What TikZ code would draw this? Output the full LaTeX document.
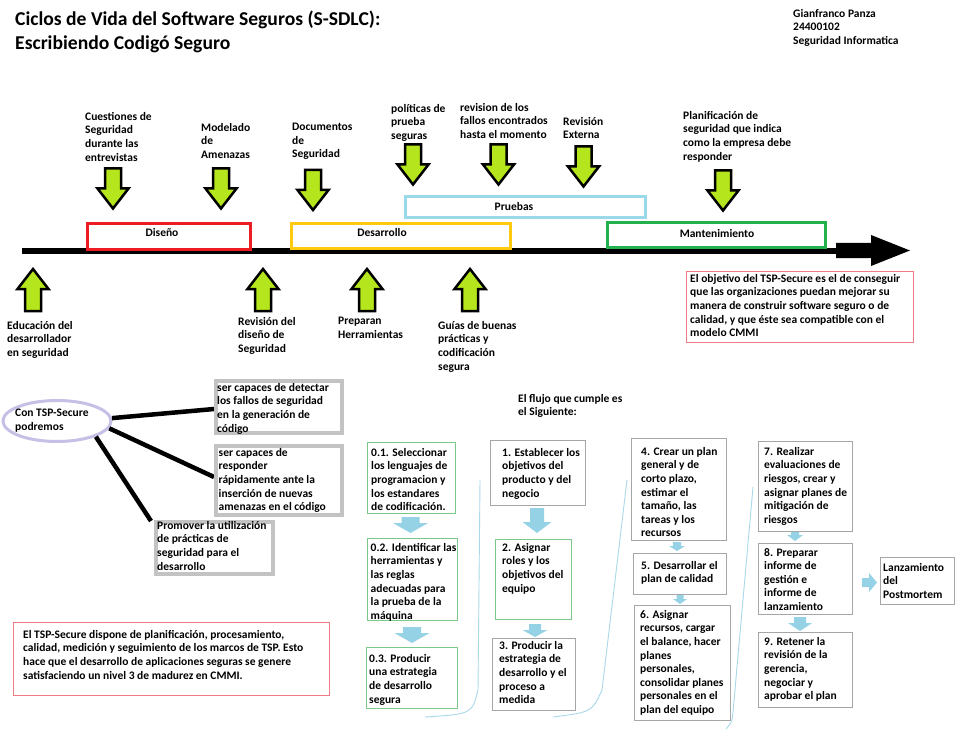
\documentclass[tikz,border=0pt]{standalone}
\usepackage{fontspec}
\setmainfont{Carlito}
\usetikzlibrary{shapes.geometric}

\definecolor{lime}{HTML}{B5E61D}
\definecolor{phred}{HTML}{ED1C24}
\definecolor{phgold}{HTML}{FFC90E}
\definecolor{phsky}{HTML}{99D9EA}
\definecolor{phgreen}{HTML}{22B14C}
\definecolor{phlav}{HTML}{C8BFE7}
\definecolor{capgray}{HTML}{C3C3C3}
\definecolor{notered}{HTML}{F07C84}
\definecolor{stepgray}{HTML}{A6A6A6}
\definecolor{stepgreen}{HTML}{7CC88A}
\definecolor{flowblue}{HTML}{96D2E6}
\definecolor{curveblue}{HTML}{A8D8EA}

\newcommand\lbfont{\bfseries\fontsize{11.5}{13.6}\selectfont}
\newcommand\ttlfont{\bfseries\fontsize{19.6}{23.5}\selectfont}

\begin{document}
\begin{tikzpicture}[x=1pt, y=-1pt,
    lbl/.style={font=\lbfont, align=left, inner sep=0pt, anchor=north west, yshift=-2pt,
      execute at begin node=\strut},
    ptxt/.style={font=\lbfont, inner sep=0pt, execute at begin node=\strut},
    phase/.style={draw=#1, line width=3pt, fill=white, anchor=north west, inner sep=0pt},
    capbox/.style={draw=capgray, line width=4pt, fill=white, anchor=north west, inner sep=0pt},
    notebox/.style={draw=notered, line width=1.3pt, anchor=north west, inner sep=0pt},
    stepbox/.style={draw=#1, line width=1.3pt, fill=white, anchor=north west, inner sep=0pt},
    garrow/.style={draw=black, fill=lime, line width=2.5pt, line join=miter},
    farrow/.style={fill=flowblue},
    spoke/.style={line width=4.5pt},
    flowcurve/.style={draw=curveblue, line width=0.9pt}]

  \fill[white] (0,0) rectangle (960,743);
  \useasboundingbox (0,0) rectangle (960,743);

  % title and author
  \node[lbl, font=\ttlfont] (ttl) at (15,9)
    {Ciclos de Vida del Software Seguros (S-SDLC):\\Escribiendo Codigó Seguro};
  \node[lbl] (info) at (793,7) {Gianfranco Panza\\24400102\\Seguridad Informatica};

  % time line
  \draw[line width=6.5pt] (22,251) -- (840,251);
  \fill (836,243) -- (871,243) -- (871,235) -- (910,250.5) -- (871,266) -- (871,258)
    -- (836,258) -- cycle;

  % phases
  \foreach \n/\c/\x/\y/\w/\h in {fDis/phred/85.5/222.5/163/25, fDes/phgold/289.5/222.5/219/24,
      fPru/phsky/403.5/195.5/240/21, fMan/phgreen/605.5/221.5/218/24}
    \node[phase=\c, minimum width=\w, minimum height=\h] (\n) at (\x,\y) {};
  \node[ptxt] (dis) at (162,234) {Diseño};
  \node[ptxt] (des) at (382,233.5) {Desarrollo};
  \node[ptxt] (pru) at (514,208) {Pruebas};
  \node[ptxt] (man) at (717,235) {Mantenimiento};

  % green arrows
  \foreach \cx/\ty in {113/168.5, 221/168.5, 313/170, 413/144.5, 498.5/144.5, 583.5/146.5, 723/170.5}
    \draw[garrow] (\cx-8,\ty) -- (\cx+8,\ty) -- (\cx+8,\ty+20) -- (\cx+15.5,\ty+20)
      -- (\cx,\ty+40) -- (\cx-15.5,\ty+20) -- (\cx-8,\ty+20) -- cycle;
  \foreach \cx in {33, 263, 367, 470}
    \draw[garrow] (\cx,269) -- (\cx+15.5,289) -- (\cx+8,289) -- (\cx+8,311)
      -- (\cx-8,311) -- (\cx-8,289) -- (\cx-15.5,289) -- cycle;

  \node[lbl] (tCue) at (85,110) {Cuestiones de\\Seguridad\\durante las\\entrevistas};
  \node[lbl] (tMod) at (201,121) {Modelado\\de\\Amenazas};
  \node[lbl] (tDoc) at (292,121) {Documentos\\de\\Seguridad};
  \node[lbl] (tPol) at (391,102) {políticas de\\prueba\\seguras};
  \node[lbl] (tRev) at (460,101) {revision de los\\fallos encontrados\\hasta el momento};
  \node[lbl] (tExt) at (563,115) {Revisión\\Externa};
  \node[lbl] (tPla) at (683,109) {Planificación de\\seguridad que indica\\como la empresa debe\\responder};

  \node[lbl] (tEdu) at (7,319) {Educación del\\desarrollador\\en seguridad};
  \node[lbl] (tRdi) at (238,315) {Revisión del\\diseño de\\Seguridad};
  \node[lbl] (tPre) at (338,315) {Preparan\\Herramientas};
  \node[lbl] (tGui) at (438,319) {Guías de buenas\\prácticas y\\codificación\\segura};

  % notes
  \node[notebox, minimum width=227, minimum height=71] (fObj) at (685.5,270.5) {};
  \node[lbl] (tObj) at (690,272) {El objetivo del TSP-Secure es el de conseguir\\que las
    organizaciones puedan mejorar su\\manera de construir software seguro o de\\calidad, y que
    éste sea compatible con el\\modelo CMMI};
  \node[notebox, minimum width=316, minimum height=73] (fMar) at (12.5,621.5) {};
  \node[lbl] (tMar) at (23,628) {El TSP-Secure dispone de planificación, procesamiento,\\calidad,
    medición y seguimiento de los marcos de TSP. Esto\\hace que el desarrollo de aplicaciones
    seguras se genere\\satisfaciendo un nivel 3 de madurez en CMMI.};

  % TSP-Secure
  \node[ellipse, draw=phlav, line width=3pt, minimum width=108, minimum height=41] (tsp) at (57,421) {};
  \node[lbl] (tspt) at (15,407) {Con TSP-Secure\\podremos};
  \draw[spoke] (tsp.3) -- (214,409);
  \draw[spoke] (tsp.-8) -- (214,477);
  \draw[spoke] (tsp.-22) -- (151,521);
  \node[capbox, minimum width=126, minimum height=52] (capA) at (214,379) {};
  \node[capbox, minimum width=126, minimum height=69] (capB) at (214,444) {};
  \node[capbox, minimum width=117, minimum height=52] (promo) at (154,520) {};
  \node[lbl] (capAt) at (217,381) {ser capaces de detectar\\los fallos de seguridad\\en la generación de\\código};
  \node[lbl] (capBt) at (218.5,446) {ser capaces de\\responder\\rápidamente ante la\\inserción de nuevas\\amenazas en el código};
  \node[lbl] (promot) at (157,519) {Promover la utilización\\de prácticas de\\seguridad para el\\desarrollo};

  % flow
  \node[lbl] (tFlu) at (518,392) {El flujo que cumple es\\el Siguiente:};
  \draw[flowcurve] (425,717) .. controls (472,714) .. (478,690) -- (480,480);
  \draw[flowcurve] (553,717) .. controls (592,712) .. (602,690) -- (627,480);
  \draw[flowcurve] (726,729) .. controls (732,722) .. (733,712) -- (753,487);

  \foreach \n/\c/\x/\y/\w/\h in {s01/stepgreen/367/442/88/71, s02/stepgreen/367/538/90/82,
      s03/stepgreen/366/647/91/61, s1/stepgray/490/440/95/65, s2/stepgreen/495/539/76/80,
      s3/stepgray/492/638/83/72, s4/stepgray/631/438/95/102, s5/stepgray/633/553/93/41,
      s6/stepgray/634/605/96/115, s7/stepgray/758/441/94/90, s8/stepgray/758/543/94/71,
      s9/stepgray/758/632/94/75, sL/stepgray/880/557/74/47}
    \node[stepbox=\c, minimum width=\w, minimum height=\h] (\n) at (\x,\y) {};

  \foreach \cx/\ty/\sw/\hw/\sh/\hh in {410.5/517/9/17.5/6/10, 412/627/9/17.5/6/10,
      537/508/7/14.5/14/11, 535/624/6/12.5/6/7, 677/542/4/8/4/5, 680/595/3.5/7/4/5,
      795/532/4/8/3/6, 800/617/6/12/6/8}
    \fill[farrow] (\cx-\sw,\ty) -- (\cx+\sw,\ty) -- (\cx+\sw,\ty+\sh) -- (\cx+\hw,\ty+\sh)
      -- (\cx,\ty+\sh+\hh) -- (\cx-\hw,\ty+\sh) -- (\cx-\sw,\ty+\sh) -- cycle;
  \fill[farrow] (862,578) -- (869,578) -- (869,573) -- (877,582.5) -- (869,592) -- (869,587)
    -- (862,587) -- cycle;

  \node[lbl] (s01t) at (371,446) {0.1. Seleccionar\\los lenguajes de\\programacion y\\los estandares\\de codificación.};
  \node[lbl] (s02t) at (370.5,541) {0.2. Identificar las\\herramientas y\\las reglas\\adecuadas para\\la prueba de la\\máquina};
  \node[lbl] (s03t) at (369,652) {0.3. Producir\\una estrategia\\de desarrollo\\segura};
  \node[lbl] (s1t) at (502,446) {1. Establecer los\\objetivos del\\producto y del\\negocio};
  \node[lbl] (s2t) at (502,541) {2. Asignar\\roles y los\\objetivos del\\equipo};
  \node[lbl] (s3t) at (499,639) {3. Producir la\\estrategia de\\desarrollo y el\\proceso a\\medida};
  \node[lbl] (s4t) at (641,445) {4. Crear un plan\\general y de\\corto plazo,\\estimar el\\tamaño, las\\tareas y los\\recursos};
  \node[lbl] (s5t) at (641,559) {5. Desarrollar el\\plan de calidad};
  \node[lbl] (s6t) at (640,608) {6. Asignar\\recursos, cargar\\el balance, hacer\\planes\\personales,\\consolidar planes\\personales en el\\plan del equipo};
  \node[lbl] (s7t) at (764,445) {7. Realizar\\evaluaciones de\\riesgos, crear y\\asignar planes de\\mitigación de\\riesgos};
  \node[lbl] (s8t) at (764,546) {8. Preparar\\informe de\\gestión e\\informe de\\lanzamiento};
  \node[lbl] (s9t) at (764,635) {9. Retener la\\revisión de la\\gerencia,\\negociar y\\aprobar el plan};
  \node[lbl] (sLt) at (883,561) {Lanzamiento\\del\\Postmortem};
\end{tikzpicture}
\end{document}
